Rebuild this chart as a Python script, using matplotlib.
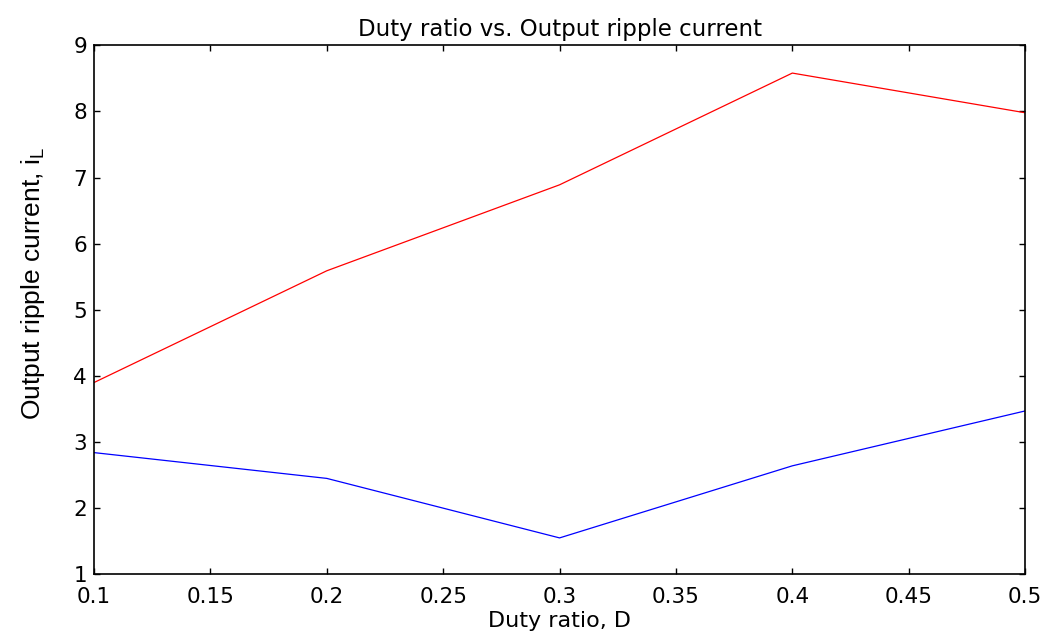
import matplotlib
matplotlib.use("Agg")
import matplotlib.pyplot as plt

duty = [0.1, 0.2, 0.3, 0.4, 0.5]
ripple_red = [3.90, 5.59, 6.89, 8.58, 7.98]
ripple_blue = [2.84, 2.45, 1.55, 2.64, 3.47]
xticks = [0.1, 0.15, 0.2, 0.25, 0.3, 0.35, 0.4, 0.45, 0.5]
xticklabels = ["0.1", "0.15", "0.2", "0.25", "0.3", "0.35", "0.4", "0.45", "0.5"]
yticks = [1, 2, 3, 4, 5, 6, 7, 8, 9]

plt.rcParams["font.family"] = ["DejaVu Sans"]

fig = plt.figure(figsize=(10.46, 6.31), dpi=100)
ax = fig.add_axes([0.0899, 0.0899, 0.8901, 0.8383])

ax.plot(duty, ripple_red, color="#ff0000", linewidth=0.9)
ax.plot(duty, ripple_blue, color="#0000ff", linewidth=0.9)

ax.set_xlim(0.1, 0.5)
ax.set_ylim(1, 9)
ax.set_xticks(xticks)
ax.set_xticklabels(xticklabels)
ax.set_yticks(yticks)
ax.tick_params(direction="in", length=4, width=1, top=True, right=True,
               labelsize=15.5)
ax.tick_params(axis="x", pad=9)
ax.tick_params(axis="y", pad=5)
for s in ax.spines.values():
    s.set_linewidth(1.2)

ax.set_title("Duty ratio vs. Output ripple current", fontsize=16.5, pad=7)
ax.set_xlabel("Duty ratio, D", fontsize=16, labelpad=3)
ax.set_ylabel(r"Output ripple current, i$_\mathregular{L}$", fontsize=19,
              family=["Liberation Sans", "DejaVu Sans"])
ax.yaxis.set_label_coords(-0.051, 0.55)

fig.savefig("out.png", dpi=100)
